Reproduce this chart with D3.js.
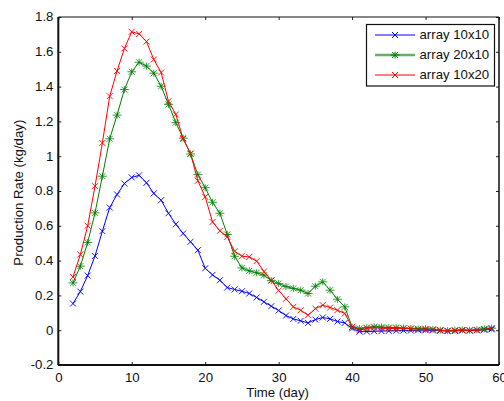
<!DOCTYPE html>
<html>
<head>
<meta charset="utf-8">
<script src="https://cdn.jsdelivr.net/npm/d3@7"></script>
<style>
  body { margin: 0; background: #fff; }
  text { font-family: "Liberation Sans", Arial, sans-serif; font-size: 12px; fill: #111; }
</style>
</head>
<body>
<svg id="chart"></svg>
<script>
// days sampled once a day
const days = d3.range(2, 60);

const array10x10 = [
  0.153, 0.222, 0.314, 0.427, 0.569, 0.705, 0.780, 0.843, 0.878, 0.890,
  0.847, 0.786, 0.747, 0.672, 0.609, 0.556, 0.508, 0.460, 0.356, 0.318,
  0.287, 0.245, 0.234, 0.224, 0.211, 0.188, 0.163, 0.138, 0.113, 0.084,
  0.065, 0.054, 0.042, 0.061, 0.073, 0.065, 0.050, 0.042, 0.010, -0.008,
  -0.008, -0.006, -0.005, -0.004, -0.003, -0.002, -0.002, 0.000, 0.000, -0.001,
  -0.003, -0.005, -0.004, -0.002, -0.003, -0.001, 0.002, 0.005
];

const array20x10 = [
  0.272, 0.368, 0.504, 0.674, 0.885, 1.100, 1.236, 1.383, 1.485, 1.540,
  1.518, 1.477, 1.402, 1.298, 1.193, 1.104, 1.013, 0.894, 0.819, 0.735,
  0.672, 0.550, 0.425, 0.358, 0.341, 0.330, 0.316, 0.285, 0.268, 0.251,
  0.240, 0.230, 0.211, 0.253, 0.278, 0.230, 0.178, 0.134, 0.019, 0.010,
  0.015, 0.020, 0.018, 0.015, 0.015, 0.012, 0.010, 0.008, 0.008, 0.005,
  0.000, -0.003, 0.000, 0.002, 0.000, 0.003, 0.008, 0.012
];

const array10x20 = [
  0.306, 0.435, 0.600, 0.828, 1.076, 1.345, 1.490, 1.619, 1.715, 1.703,
  1.659, 1.556, 1.481, 1.316, 1.240, 1.099, 1.015, 0.859, 0.766, 0.622,
  0.571, 0.536, 0.454, 0.425, 0.421, 0.397, 0.337, 0.287, 0.228, 0.180,
  0.134, 0.115, 0.086, 0.124, 0.144, 0.130, 0.115, 0.096, 0.019, 0.000,
  0.010, 0.015, 0.012, 0.010, 0.010, 0.010, 0.008, 0.005, 0.005, 0.003,
  0.000, -0.004, -0.003, 0.000, -0.002, 0.000, 0.005, 0.010
];

const seriesNames = ['array 10x10', 'array 20x10', 'array 10x20'];
const xTicks = [0, 10, 20, 30, 40, 50, 60];
const yTicks = [-0.2, 0, 0.2, 0.4, 0.6, 0.8, 1, 1.2, 1.4, 1.6, 1.8];

const width = 504, height = 401;
const plotLeft = 58.3, plotRight = 499, plotTop = 17, plotBottom = 365;
const stretch = 1.1; // the original font renders a bit wide

const series = [
  { name: seriesNames[0], values: array10x10, color: '#0000ff', marker: 'x' },
  { name: seriesNames[1], values: array20x10, color: '#008000', marker: 'star' },
  { name: seriesNames[2], values: array10x20, color: '#ff0000', marker: 'x' },
];

const x = d3.scaleLinear().domain([0, 60]).range([plotLeft, plotRight]);
const y = d3.scaleLinear().domain([-0.2, 1.8]).range([plotBottom, plotTop]);

const svg = d3.select('#chart')
  .attr('width', width)
  .attr('height', height);

// marker shapes
const markerPath = {
  x: 'M-3,-3L3,3M-3,3L3,-3',
  star: 'M-4.5,0H4.5M0,-3.5V3.5M-3,-3L3,3M-3,3L3,-3',
};

// Axes with inward ticks on all four sides
const fmt = d => String(+d.toFixed(1));

svg.append('g')
  .attr('transform', `translate(0,${plotBottom})`)
  .call(d3.axisBottom(x).tickValues(xTicks).tickSize(-3).tickSizeOuter(0).tickPadding(8.5).tickFormat(fmt))
  .call(g => g.select('.domain').remove())
  .call(g => g.selectAll('text').attr('transform', `scale(${stretch},1)`));

svg.append('g')
  .attr('transform', `translate(${plotLeft},0)`)
  .call(d3.axisLeft(y).tickValues(yTicks).tickSize(-3).tickSizeOuter(0).tickPadding(4.4).tickFormat(fmt))
  .call(g => g.select('.domain').remove())
  .call(g => g.selectAll('text').attr('transform', `scale(${stretch},1)`));

svg.append('g')
  .attr('transform', `translate(0,${plotTop})`)
  .call(d3.axisTop(x).tickValues(xTicks).tickSize(-3).tickSizeOuter(0).tickFormat(''))
  .call(g => g.select('.domain').remove());

svg.append('g')
  .attr('transform', `translate(${plotRight},0)`)
  .call(d3.axisRight(y).tickValues(yTicks).tickSize(-3).tickSizeOuter(0).tickFormat(''))
  .call(g => g.select('.domain').remove());

svg.selectAll('.tick line').attr('stroke', '#222');
svg.selectAll('.tick text').style('font-size', '12px').attr('fill', '#111')
  .style('font-family', '"Liberation Sans", Arial, sans-serif');

// box
const box = svg.append('g').attr('stroke', '#111').attr('fill', 'none');
box.append('line').attr('x1', plotLeft).attr('x2', plotRight).attr('y1', plotBottom).attr('y2', plotBottom).attr('stroke-width', 2);
box.append('line').attr('x1', plotLeft).attr('x2', plotLeft).attr('y1', plotTop).attr('y2', plotBottom).attr('stroke-width', 2);
box.append('line').attr('x1', plotLeft).attr('x2', plotRight).attr('y1', plotTop).attr('y2', plotTop).attr('stroke-width', 1.2);
box.append('line').attr('x1', plotRight).attr('x2', plotRight).attr('y1', plotTop).attr('y2', plotBottom).attr('stroke-width', 1.5);

// Lines and markers
const line = d3.line()
  .x((d, i) => x(days[i]))
  .y(d => y(d));

const plot = svg.append('g');
series.forEach(s => {
  plot.append('path')
    .datum(s.values)
    .attr('fill', 'none')
    .attr('stroke', s.color)
    .attr('stroke-width', 1)
    .attr('d', line);

  plot.append('g')
    .selectAll('path')
    .data(s.values)
    .join('path')
    .attr('transform', (d, i) => `translate(${x(days[i])},${y(d)})`)
    .attr('d', markerPath[s.marker])
    .attr('fill', 'none')
    .attr('stroke', s.color)
    .attr('stroke-width', 1)
    .attr('opacity', s.marker === 'star' ? 0.8 : 0.9);
});

// Axis titles
svg.append('text')
  .attr('transform', `translate(${(plotLeft + plotRight) / 2 - 1},397) scale(${stretch},1)`)
  .attr('text-anchor', 'middle')
  .text('Time (day)');

svg.append('text')
  .attr('transform', `translate(22.7,192.7) rotate(-90) scale(${stretch},1)`)
  .attr('text-anchor', 'middle')
  .text('Production Rate (kg/day)');

// Legend
const legend = svg.append('g');
legend.append('rect')
  .attr('x', 366.5).attr('y', 24.5)
  .attr('width', 128).attr('height', 61.5)
  .attr('fill', '#fff')
  .attr('stroke', '#111')
  .attr('stroke-width', 1.2);

series.forEach((s, i) => {
  const ly = 35 + i * 20;
  legend.append('line')
    .attr('x1', 375).attr('x2', 415)
    .attr('y1', ly).attr('y2', ly)
    .attr('stroke', s.color)
    .attr('stroke-width', s.marker === 'star' ? 2.5 : 1)
    .attr('opacity', s.marker === 'star' ? 0.6 : 1);
  legend.append('path')
    .attr('transform', `translate(395,${ly})`)
    .attr('d', markerPath[s.marker])
    .attr('fill', 'none')
    .attr('stroke', s.color)
    .attr('stroke-width', 1);
  legend.append('text')
    .attr('transform', `translate(419.5,${ly}) scale(${stretch},1)`)
    .attr('dy', '0.35em')
    .text(s.name);
});
</script>
</body>
</html>
